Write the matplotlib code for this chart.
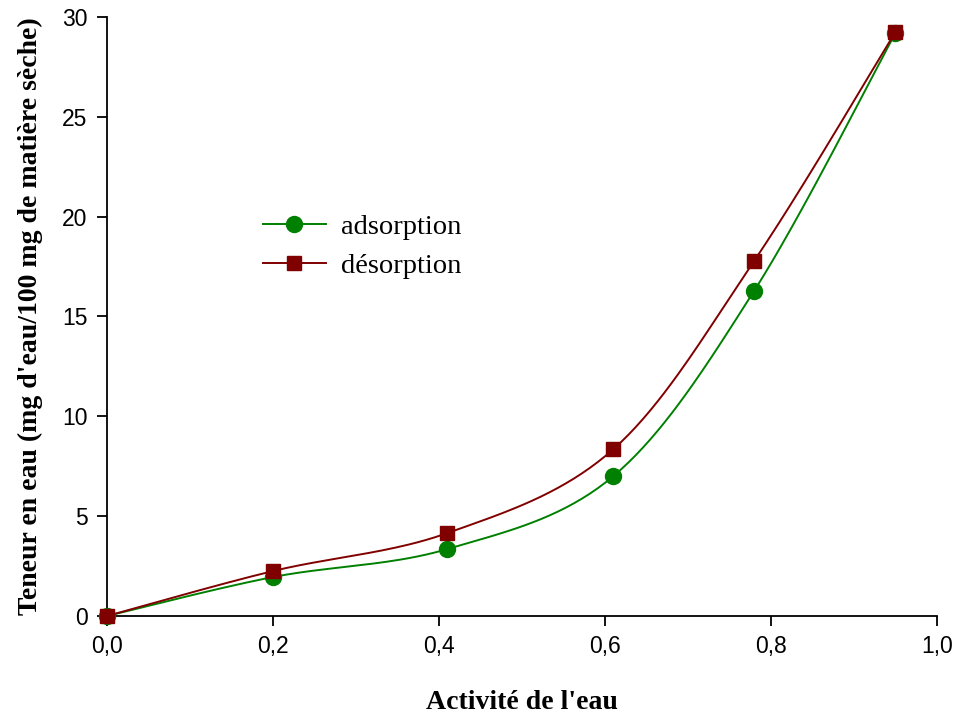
import numpy as np
import matplotlib.pyplot as plt

# water activity and moisture content
aw = [0.0, 0.20, 0.41, 0.61, 0.78, 0.95]
adsorption = [0.0, 1.95, 3.35, 7.0, 16.3, 29.2]
desorption = [0.0, 2.25, 4.15, 8.35, 17.8, 29.25]

x_ticks = [0.0, 0.2, 0.4, 0.6, 0.8, 1.0]
x_ticklabels = ['0,0', '0,2', '0,4', '0,6', '0,8', '1,0']
y_ticks = [0, 5, 10, 15, 20, 25, 30]


def smooth(xs, ys, n=40):
    '''
    Catmull-Rom smoothing between the data points (like a spreadsheet "smoothed line").
    Returns the curve and the indices where the original points sit.
    '''
    xs = np.asarray(xs, float)
    ys = np.asarray(ys, float)
    px = np.concatenate([[xs[0]], xs, [xs[-1]]])
    py = np.concatenate([[ys[0]], ys, [ys[-1]]])
    cx, cy, idx = [], [], []
    t = np.linspace(0, 1, n, endpoint=False)
    for i in range(1, len(px) - 2):
        p0x, p1x, p2x, p3x = px[i - 1:i + 3]
        p0y, p1y, p2y, p3y = py[i - 1:i + 3]
        # bezier control points
        b1x, b1y = p1x + (p2x - p0x) / 6, p1y + (p2y - p0y) / 6
        b2x, b2y = p2x - (p3x - p1x) / 6, p2y - (p3y - p1y) / 6
        idx.append(len(cx))
        bx = (1 - t) ** 3 * p1x + 3 * (1 - t) ** 2 * t * b1x + 3 * (1 - t) * t ** 2 * b2x + t ** 3 * p2x
        by = (1 - t) ** 3 * p1y + 3 * (1 - t) ** 2 * t * b1y + 3 * (1 - t) * t ** 2 * b2y + t ** 3 * p2y
        cx.extend(bx)
        cy.extend(by)
    idx.append(len(cx))
    cx.append(xs[-1])
    cy.append(ys[-1])
    return np.array(cx), np.array(cy), idx


fig = plt.figure(figsize=(9.59, 7.19), dpi=100)
ax = fig.add_axes([0.1116, 0.1433, 0.8654, 0.8331])

sx, sy, mk = smooth(aw, adsorption)
ax.plot(sx, sy, color='#008000', lw=1.4, marker='o', markevery=mk, markersize=11.5,
        markerfacecolor='#008000', markeredgecolor='#008000', label='adsorption', clip_on=False, zorder=3)
sx, sy, mk = smooth(aw, desorption)
ax.plot(sx, sy, color='#800000', lw=1.4, marker='s', markevery=mk, markersize=10,
        markerfacecolor='#800000', markeredgecolor='#800000', label='désorption', clip_on=False, zorder=4)

ax.set_xlim(0, 1.0)
ax.set_ylim(0, 30)
ax.set_xticks(x_ticks)
ax.set_xticklabels(x_ticklabels)
ax.set_yticks(y_ticks)
for s in ['top', 'right']:
    ax.spines[s].set_visible(False)
for s in ['left', 'bottom']:
    ax.spines[s].set_linewidth(1.3)
ax.tick_params(direction='out', length=7, width=1.3, labelsize=16.5, pad=7)
for lab in ax.get_xticklabels() + ax.get_yticklabels():
    lab.set_fontfamily('Liberation Sans')

ax.set_xlabel("Activité de l'eau", fontfamily='Liberation Serif', fontweight='bold', fontsize=20, labelpad=23)
ax.set_ylabel("Teneur en eau (mg d'eau/100 mg de matière sèche)", fontfamily='Liberation Serif',
              fontweight='bold', fontsize=20, labelpad=14)

ax.legend(loc='upper left', bbox_to_anchor=(263 / 959, 1 - 214 / 719), bbox_transform=fig.transFigure,
          frameon=False, borderpad=0, borderaxespad=0,
          prop={'family': 'Liberation Serif', 'size': 20.5}, handlelength=2.2, handletextpad=0.55,
          labelspacing=0.45)

fig.savefig('out.png', dpi=100)
